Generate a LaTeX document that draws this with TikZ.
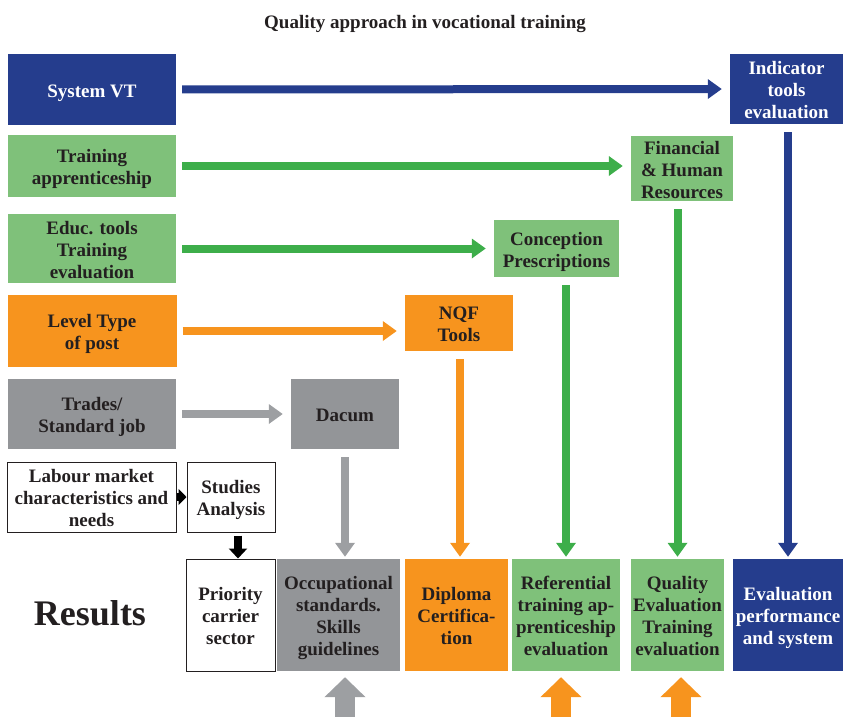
\documentclass[tikz,border=0pt]{standalone}
\usepackage{xcolor}
\usepackage{fontspec}
\setmainfont{Liberation Serif}
\usepackage{tikz}
\usetikzlibrary{arrows.meta}

\definecolor{vtblue}{RGB}{37,61,141}
\definecolor{vtgreen}{RGB}{127,193,122}
\definecolor{vtgreenline}{RGB}{61,174,74}
\definecolor{vtorange}{RGB}{247,148,30}
\definecolor{vtgray}{RGB}{147,149,152}
\definecolor{vtgrayline}{RGB}{157,159,162}
\definecolor{ink}{RGB}{35,31,32}

% centred lines, set a little low in the box, box size from minimum width/height
\newcommand{\boxlines}[1]{\raisebox{-7.5pt}[0pt][0pt]{\begin{tabular}{@{}c@{}}#1\end{tabular}}}

\tikzset{
  box/.style = {rectangle, inner sep=0pt, text=ink,
    font=\bfseries\fontsize{19}{22}\selectfont},
  bluebox/.style = {box, fill=vtblue, text=white},
  greenbox/.style = {box, fill=vtgreen},
  orangebox/.style = {box, fill=vtorange},
  graybox/.style = {box, fill=vtgray},
  plainbox/.style = {box, fill=white, draw=ink, line width=1pt},
  flow/.style = {line width=8pt, -{Triangle[length=14pt, width=19pt]}},
  across/.style = {flow, shorten <=6pt, shorten >=8pt},
  down/.style = {flow, shorten <=8pt, shorten >=2pt},
  push/.style = {line width=20pt, -{Triangle[length=20pt, width=40pt]}, shorten >=6pt},
}

\begin{document}
\begin{tikzpicture}[x=1pt, y=-1pt]
\useasboundingbox (0, 0) rectangle (843, 717);

\node [font=\bfseries\fontsize{19}{22}\selectfont, text=ink] (title) at (425, 24) {Quality approach in vocational training};

% left column
\node [bluebox, minimum width=168pt, minimum height=70pt] (sys) at (92, 89.5) {\boxlines{System VT}};
\node [greenbox, minimum width=168pt, minimum height=62pt] (train) at (92, 166) {\boxlines{Training\\apprenticeship}};
\node [greenbox, minimum width=168pt, minimum height=69pt] (educ) at (92, 248.5) {\boxlines{Educ. tools\\Training\\evaluation}};
\node [orangebox, minimum width=169pt, minimum height=72pt] (level) at (92, 331) {\boxlines{Level Type\\of post}};
\node [graybox, minimum width=168pt, minimum height=70pt] (trades) at (92, 414) {\boxlines{Trades/\\Standard job}};
\node [plainbox, minimum width=169pt, minimum height=70pt] (labour) at (91.5, 497) {\boxlines{Labour market\\characteristics and\\needs}};
\node [plainbox, minimum width=88pt, minimum height=70pt] (studies) at (231, 497) {\boxlines{Studies\\Analysis}};

% tools
\node [bluebox, minimum width=113pt, minimum height=70pt] (ind) at (786.5, 89) {\boxlines{Indicator\\tools\\evaluation}};
\node [greenbox, minimum width=102pt, minimum height=65pt] (fin) at (682, 168.5) {\boxlines{Financial\\\& Human\\Resources}};
\node [greenbox, minimum width=125pt, minimum height=57pt] (conc) at (556.5, 248.5) {\boxlines{Conception\\Prescriptions}};
\node [orangebox, minimum width=108pt, minimum height=56pt] (nqf) at (459, 323) {\boxlines{NQF\\Tools}};
\node [graybox, minimum width=108pt, minimum height=70pt] (dacum) at (345, 414) {\boxlines{Dacum}};

% results
\node [text=ink, font=\bfseries\fontsize{36}{40}\selectfont] (results) at (90, 613) {Results};
\node [plainbox, minimum width=89pt, minimum height=112pt] (prio) at (230.5, 615) {\boxlines{Priority\\carrier\\sector}};
\node [graybox, minimum width=123pt, minimum height=112pt] (occ) at (338.5, 615) {\boxlines{Occupational\\standards.\\Skills\\guidelines}};
\node [orangebox, minimum width=103pt, minimum height=112pt] (dipl) at (456.5, 615) {\boxlines{Diploma\\Certifica-\\tion}};
\node [greenbox, minimum width=108pt, minimum height=112pt] (ref) at (566, 615) {\boxlines{Referential\\training ap-\\prenticeship\\evaluation}};
\node [greenbox, minimum width=93pt, minimum height=112pt] (qual) at (677.5, 615) {\boxlines{Quality\\Evaluation\\Training\\evaluation}};
\node [bluebox, minimum width=110pt, minimum height=112pt] (evalp) at (788, 615) {\boxlines{Evaluation\\performance\\and system}};

\coordinate (pg) at (345, 717);
\coordinate (po1) at (561, 717);
\coordinate (po2) at (681, 717);

% horizontal links
\draw [across, draw=vtblue] (sys.east) to (ind.west);
\draw [across, draw=vtgreenline] (train.east) to (train.east -| fin.west);
\draw [across, draw=vtgreenline] (educ.east) to (conc.west);
\draw [across, draw=vtorange] (level.east) to (level.east -| nqf.west);
\draw [across, draw=vtgrayline] (trades.east) to (dacum.west);
\draw [flow, draw=black, -{Triangle[length=8pt, width=16pt]}] (labour.east) to (studies.west);
\draw [flow, draw=black, -{Triangle[length=10pt, width=18pt]}, shorten <=3pt] ([xshift=7pt]studies.south) to ([xshift=7pt]studies.south |- prio.north);

% vertical links
\draw [down, draw=vtgrayline] (dacum.south) to (dacum.south |- occ.north);
\draw [down, draw=vtorange] ([xshift=1pt]nqf.south) to ([xshift=1pt]nqf.south |- dipl.north);
\draw [down, draw=vtgreenline] (conc.south -| ref.north) to (ref.north);
\draw [down, draw=vtgreenline] (fin.south -| qual.north) to (qual.north);
\draw [down, draw=vtblue] (ind.south -| evalp.north) to (evalp.north);

% arrows from below
\draw [push, draw=vtgrayline] (pg) to (pg |- occ.south);
\draw [push, draw=vtorange] (po1) to (po1 |- ref.south);
\draw [push, draw=vtorange] (po2) to (po2 |- qual.south);
\end{tikzpicture}
\end{document}
